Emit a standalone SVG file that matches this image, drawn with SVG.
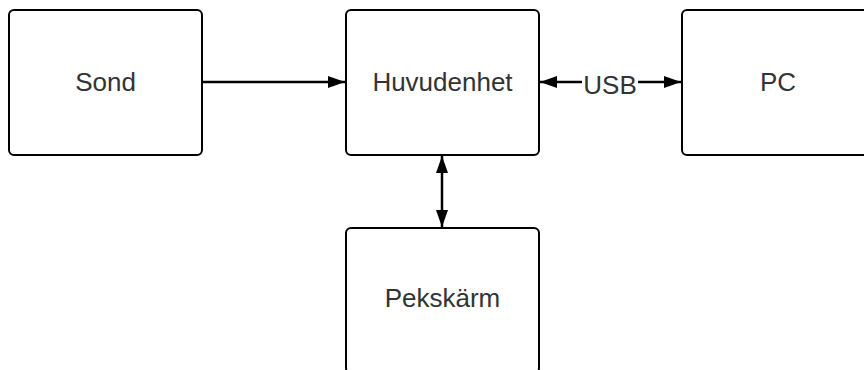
<svg xmlns="http://www.w3.org/2000/svg" width="864" height="370" viewBox="0 0 864 370">
  <style>
    .box { fill: #ffffff; stroke: #000000; stroke-width: 2; }
    .label { font-family: "Liberation Sans", Arial, sans-serif; font-size: 26px; fill: #333333; text-anchor: middle; }
    .wire { fill: none; stroke: #000000; stroke-width: 2.5; }
  </style>
  <defs>
    <marker id="arrow" viewBox="0 0 17 12" refX="17" refY="6" markerWidth="17" markerHeight="12" markerUnits="userSpaceOnUse" orient="auto-start-reverse">
      <path d="M0,0 L17,6 L0,12 Z" fill="#000000"/>
    </marker>
  </defs>
  <rect width="864" height="370" fill="#ffffff"/>

  <g id="connectors">
    <line class="wire" x1="202" y1="82" x2="345" y2="82" marker-end="url(#arrow)"/>
    <line class="wire" x1="540" y1="82" x2="582" y2="82" marker-start="url(#arrow)"/>
    <line class="wire" x1="638" y1="82" x2="681" y2="82" marker-end="url(#arrow)"/>
    <text class="label" x="610" y="94">USB</text>
    <line class="wire" x1="442" y1="156" x2="442" y2="227" marker-start="url(#arrow)" marker-end="url(#arrow)"/>
  </g>

  <g id="sond">
    <rect class="box" x="9" y="10" width="193" height="145" rx="5"/>
    <text class="label" x="105.5" y="91">Sond</text>
  </g>
  <g id="huvudenhet">
    <rect class="box" x="346" y="10" width="193" height="145" rx="5"/>
    <text class="label" x="442.5" y="91">Huvudenhet</text>
  </g>
  <g id="pc">
    <rect class="box" x="682" y="10" width="193" height="145" rx="5"/>
    <text class="label" x="778" y="91">PC</text>
  </g>
  <g id="pekskarm">
    <rect class="box" x="346" y="228" width="193" height="145" rx="5"/>
    <text class="label" x="442.5" y="307">Pekskärm</text>
  </g>
</svg>
